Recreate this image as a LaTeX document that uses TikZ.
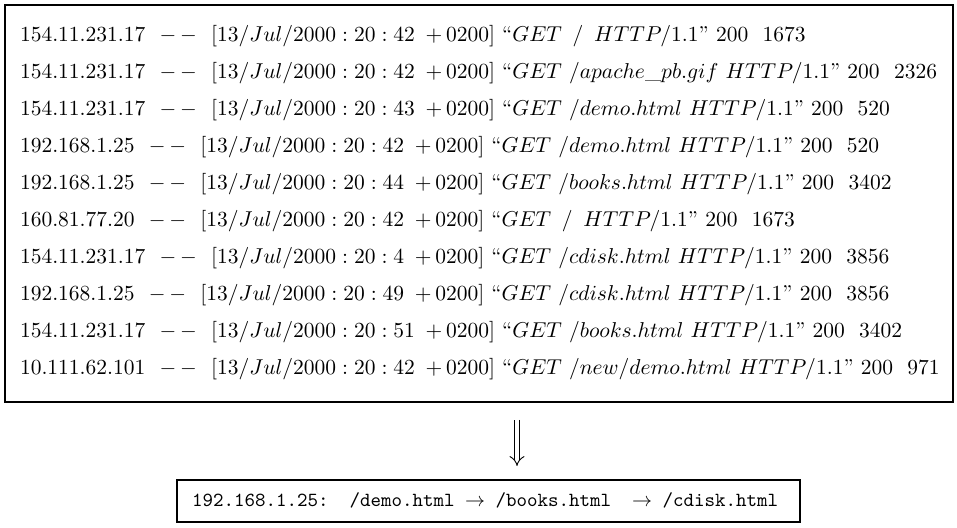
\documentclass[tikz,border=0pt]{standalone}
\usepackage{graphicx}
\usetikzlibrary{arrows.meta}

% one access-log entry, typeset in math mode and enlarged slightly
\newcommand\logline[5]{\scalebox{1.075}{%
  $#1\ \ \mathord{-}\,\mathord{-}\ \ [13/Jul/2000:20:#2\ \,\mathord{+}\,0200]$
  ``$GET\ #3\ HTTP/1.1$''\ $#4\ \ #5$}}

\begin{document}
\begin{tikzpicture}[x=0.5pt,y=-0.5pt,
  every node/.style={inner sep=0pt,outer sep=0pt},
  logtext/.style={anchor=base west,font=\fontsize{10}{12}\selectfont},
  framebox/.style={draw,line width=0.6pt,anchor=north west},
  pathtext/.style={font=\fontsize{10}{12}\selectfont\ttfamily,anchor=base west},
  bigarrow/.style={double,double distance=2.2pt,line width=0.45pt,-{Implies[length=4pt]}}]

\useasboundingbox (0,0) rectangle (957,528);

% frame around the raw log
\node[framebox,minimum width=948*0.5pt,minimum height=397*0.5pt] (logbox) at (5,5) {};

\node[logtext] (l1)  at (20,42)  {\logline{154.11.231.17}{42}{\,/\,}{200}{1673}};
\node[logtext] (l2)  at (20,79)  {\logline{154.11.231.17}{42}{/apache\_pb.gif}{200}{2326}};
\node[logtext] (l3)  at (20,116) {\logline{154.11.231.17}{43}{/demo.html}{200}{520}};
\node[logtext] (l4)  at (20,153) {\logline{192.168.1.25}{42}{/demo.html}{200}{520}};
\node[logtext] (l5)  at (20,190) {\logline{192.168.1.25}{44}{/books.html}{200}{3402}};
\node[logtext] (l6)  at (20,227) {\logline{160.81.77.20}{42}{\,/\,}{200}{1673}};
\node[logtext] (l7)  at (20,264) {\logline{154.11.231.17}{4}{/cdisk.html}{200}{3856}};
\node[logtext] (l8)  at (20,301) {\logline{192.168.1.25}{49}{/cdisk.html}{200}{3856}};
\node[logtext] (l9)  at (20,338) {\logline{154.11.231.17}{51}{/books.html}{200}{3402}};
\node[logtext] (l10) at (20,375) {\logline{10.111.62.101}{42}{/new/demo.html}{200}{971}};

% extracted session
\node[framebox,minimum width=623*0.5pt,minimum height=42*0.5pt] (sessbox) at (177,480) {};
\node[pathtext] (sess) at (192,506)
  {192.168.1.25:\ \ /demo.html $\rightarrow$ /books.html\ \ $\rightarrow$ /cdisk.html};

% derivation arrow
\coordinate (from) at (517,420);
\coordinate (to)   at (517,466);
\draw[bigarrow] (from) -- (to);
\end{tikzpicture}
\end{document}
